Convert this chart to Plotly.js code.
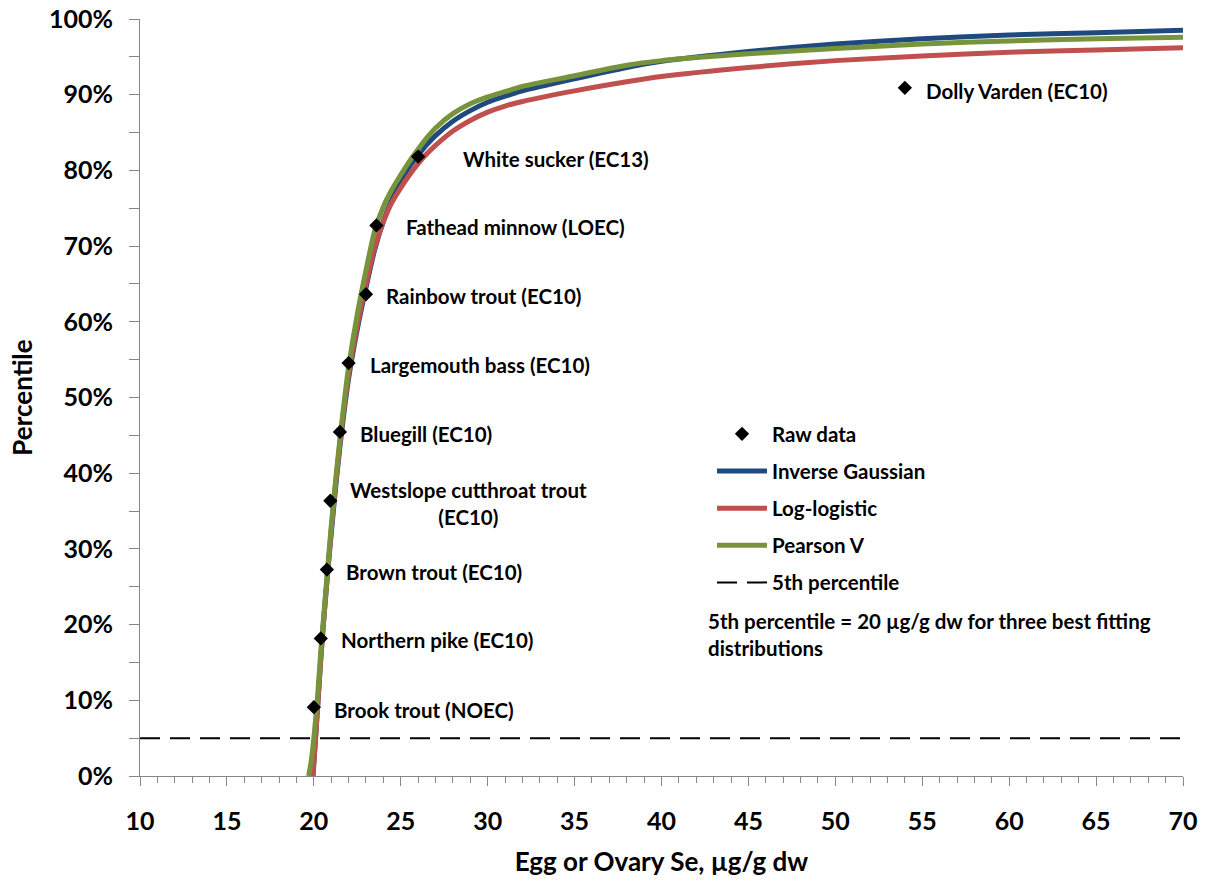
<!DOCTYPE html>
<html><head><meta charset="utf-8">
<script src="https://cdn.plot.ly/plotly-3.0.1.min.js"></script>
<style>html,body{margin:0;padding:0;background:#fff}</style>
</head><body><div id="chart" style="width:1207px;height:886px"></div>
<script>
// ---- data ----
const speciesLabels = ["Brook trout (NOEC)", "Northern pike (EC10)", "Brown trout (EC10)",
  "Westslope cutthroat trout<br>(EC10)", "Bluegill (EC10)", "Largemouth bass (EC10)",
  "Rainbow trout (EC10)", "Fathead minnow (LOEC)", "White sucker (EC13)", "Dolly Varden (EC10)"];
const rawX = [20.0, 20.4, 20.75, 20.95, 21.5, 22.0, 23.0, 23.6, 26.0, 54.0];
const rawY = [9.09, 18.18, 27.27, 36.36, 45.45, 54.55, 63.64, 72.73, 81.82, 90.91];

const igX = [19.95, 20.1, 20.2, 20.4, 20.6, 20.8, 21.0, 21.25, 21.5, 21.75, 22.0, 22.5, 23.0, 23.5, 24.0, 24.5, 25.0, 25.5, 26.0, 26.5, 27.0, 28.0, 29.0, 30.0, 31.0, 32.0, 35.0, 38.0, 40.0, 45.0, 50.0, 55.0, 60.0, 65.0, 70.0];
const igY = [0, 5, 8.5, 15.5, 21.5, 27, 32, 38, 43.5, 48.3, 52.5, 59, 64.5, 69.5, 73.3, 76.2, 78.5, 80.5, 82.0, 83.4, 84.6, 86.5, 87.9, 89.0, 89.8, 90.5, 92.1, 93.6, 94.4, 95.7, 96.7, 97.4, 97.9, 98.2, 98.5];

const llX = [19.95, 20.1, 20.2, 20.4, 20.6, 20.8, 21.0, 21.25, 21.5, 21.75, 22.0, 22.5, 23.0, 23.5, 24.0, 24.5, 25.0, 25.5, 26.0, 26.5, 27.0, 28.0, 29.0, 30.0, 31.0, 32.0, 35.0, 38.0, 40.0, 45.0, 50.0, 55.0, 60.0, 65.0, 70.0];
const llY = [0, 5, 8.5, 15.5, 21.5, 27, 32.5, 38.5, 44, 48.8, 53, 59.5, 65, 69.8, 73.2, 75.8, 77.7, 79.4, 80.9, 82.2, 83.3, 85.2, 86.6, 87.7, 88.5, 89.1, 90.5, 91.7, 92.4, 93.6, 94.5, 95.1, 95.6, 95.9, 96.2];

const pvX = [19.7, 19.85, 20.0, 20.2, 20.4, 20.6, 20.8, 21.0, 21.25, 21.5, 21.75, 22.0, 22.5, 23.0, 23.5, 24.0, 24.5, 25.0, 25.5, 26.0, 26.5, 27.0, 28.0, 29.0, 30.0, 31.0, 32.0, 35.0, 38.0, 40.0, 42.0, 45.0, 50.0, 55.0, 60.0, 65.0, 70.0];
const pvY = [0, 2, 5, 10, 16.5, 22, 27.5, 33, 39, 44.5, 49.5, 54, 61, 66.8, 72.0, 75.2, 77.5, 79.4, 81.2, 82.8, 84.3, 85.6, 87.5, 88.8, 89.7, 90.4, 91.1, 92.5, 93.9, 94.5, 94.9, 95.4, 96.1, 96.7, 97.1, 97.4, 97.6];

const pct5X = [10, 70];
const pct5Y = [5, 5];

const xTicks = [10, 15, 20, 25, 30, 35, 40, 45, 50, 55, 60, 65, 70];
const noteText = "5th percentile = 20 µg/g dw for three best fitting<br>distributions";

// ---- styling ----
const FONT = 'Lato, "Open Sans", sans-serif';
const labelDx = [18, 18, 17, 18, 18, 19, 18, 28, 43, 19];
const labelDy = [-3, -2, -2, -3, -2, -2, -2, -2, -2, -3];
const PL = 140, PR = 1183, PT = 19, PB = 776;
const px2x = p => (p - PL) / (PR - PL);
const px2y = p => (PB - p) / (PB - PT);

const traces = [
  {x: igX, y: igY, type: 'scatter', mode: 'lines', name: 'Inverse Gaussian', legendgroup: 'ig', legendrank: 2,
   line: {color: '#1F4A7E', width: 5, shape: 'spline', smoothing: 0.7}},
  {x: llX, y: llY, type: 'scatter', mode: 'lines', name: 'Log-logistic', legendgroup: 'll', legendrank: 3,
   line: {color: '#C0504D', width: 5, shape: 'spline', smoothing: 0.7}},
  {x: pvX, y: pvY, type: 'scatter', mode: 'lines', name: 'Pearson V', legendgroup: 'pv', legendrank: 4,
   line: {color: '#77933C', width: 5, shape: 'spline', smoothing: 0.7}},
  {x: pct5X, y: pct5Y, type: 'scatter', mode: 'lines', name: '5th percentile', legendgroup: 'p5', legendrank: 5,
   line: {color: '#000000', width: 2, dash: '20px,10px'}},
  {x: rawX, y: rawY, type: 'scatter', mode: 'markers', name: 'Raw data', legendgroup: 'raw', legendrank: 1,
   marker: {symbol: 'diamond', size: 11, color: '#000000'}}
];

const annotations = speciesLabels.map((t, i) => ({
  x: rawX[i], y: rawY[i], xref: 'x', yref: 'y', text: t, showarrow: false,
  xanchor: 'left', yanchor: 'middle', align: 'center', xshift: labelDx[i], yshift: labelDy[i],
  font: {family: FONT, size: 20.5, weight: 'bold', color: '#000'}
}));
annotations.push({
  xref: 'paper', yref: 'paper', x: px2x(706), y: px2y(607), xanchor: 'left', yanchor: 'top',
  align: 'left', showarrow: false, text: noteText,
  font: {family: FONT, size: 20.5, weight: 'bold', color: '#000'}
});

const layout = {
  width: 1207, height: 886,
  margin: {l: PL, r: 1207 - PR, t: PT, b: 886 - PB},
  paper_bgcolor: '#fff', plot_bgcolor: '#fff',
  font: {family: FONT, size: 20, weight: 'bold', color: '#000'},
  showlegend: true,
  legend: {
    x: px2x(712), y: px2y(414), xanchor: 'left', yanchor: 'top',
    traceorder: 'grouped', tracegroupgap: 7.5, itemwidth: 50, bgcolor: 'rgba(0,0,0,0)',
    font: {family: FONT, size: 20.5, weight: 'bold', color: '#000'}
  },
  xaxis: {
    range: [10, 70], tickmode: 'array', tickvals: xTicks, ticktext: xTicks.map(String),
    showgrid: false, zeroline: false, showline: true, linecolor: '#868686', linewidth: 1,
    ticks: 'outside', ticklen: 9, tickcolor: '#868686', tickwidth: 1, ticklabelstandoff: 14,
    minor: {dtick: 1, ticks: 'outside', ticklen: 6, tickcolor: '#868686', tickwidth: 1, showgrid: false},
    tickfont: {family: FONT, size: 25, weight: 'bold', color: '#000'},
    title: {text: 'Egg or Ovary Se, µg/g dw', standoff: 18, font: {family: FONT, size: 26, weight: 'bold', color: '#000'}}
  },
  yaxis: {
    range: [0, 100], dtick: 10, ticksuffix: '%',
    showgrid: false, zeroline: false, showline: true, linecolor: '#868686', linewidth: 1,
    ticks: 'outside', ticklen: 10, tickcolor: '#868686', tickwidth: 1, ticklabelstandoff: 11,
    minor: {dtick: 5, ticks: 'outside', ticklen: 10, tickcolor: '#868686', tickwidth: 1, showgrid: false},
    tickfont: {family: FONT, size: 25, weight: 'bold', color: '#000'},
    title: {text: 'Percentile', standoff: 8, font: {family: FONT, size: 26, weight: 'bold', color: '#000'}}
  },
  annotations: annotations
};

Plotly.newPlot('chart', traces, layout, {displayModeBar: false, staticPlot: true});
</script>
</body></html>
